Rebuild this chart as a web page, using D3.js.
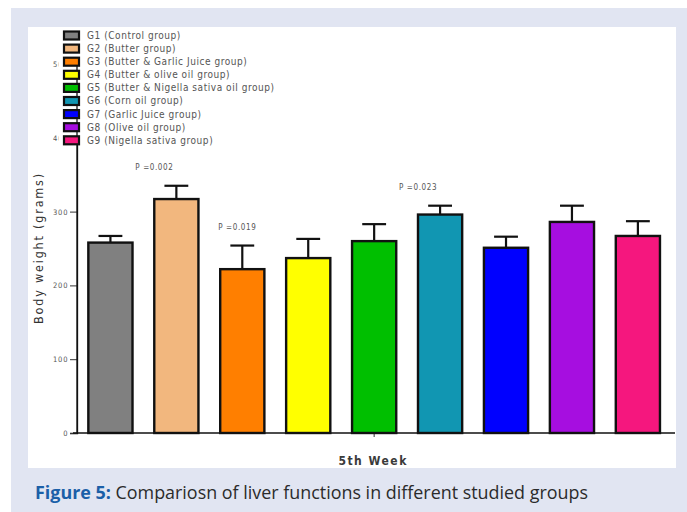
<!DOCTYPE html>
<html>
<head>
<meta charset="utf-8">
<script src="https://cdn.jsdelivr.net/npm/d3@7"></script>
<style>
  html, body { margin: 0; padding: 0; background: #ffffff; }
  svg { display: block; }
  .narrow { font-family: "Liberation Sans Narrow", "Arial Narrow", "DejaVu Sans Condensed", sans-serif; }
</style>
</head>
<body>
<svg id="chart" width="687" height="512"></svg>
<script>
// Body weight at the 5th week, mean ± SE per group
const groups = ["G1", "G2", "G3", "G4", "G5", "G6", "G7", "G8", "G9"];
const groupNames = [
  "G1 (Control group)",
  "G2 (Butter group)",
  "G3 (Butter & Garlic Juice group)",
  "G4 (Butter & olive oil group)",
  "G5 (Butter & Nigella sativa oil group)",
  "G6 (Corn oil group)",
  "G7 (Garlic Juice group)",
  "G8 (Olive oil group)",
  "G9 (Nigella sativa group)"
];
const meanWeight = [258, 317, 222, 237, 260, 296, 251, 286, 267];
const seWeight = [9, 18, 32, 26, 23, 12, 15, 22, 20];
const groupColors = ["#808080", "#f2b77e", "#ff7f00", "#ffff00", "#00bf00", "#1196b2", "#0000ff", "#a60ee0", "#f5177e"];
const pGroups = ["G2", "G3", "G6"];
const pLabels = ["P =0.002", "P =0.019", "P =0.023"];
const yTicks = [0, 100, 200, 300, 400, 500];
const xLabel = "5th Week";
const yLabel = "Body weight (grams)";
const captionLead = "Figure 5:";
const captionText = " Compariosn of liver functions in different studied groups";

const svg = d3.select("#chart");

// page frame: lavender card with a white plot panel
svg.append("rect").attr("x", 11).attr("y", 8).attr("width", 676).attr("height", 504).attr("fill", "#e1e5f2");
svg.append("rect").attr("x", 28).attr("y", 27).attr("width", 648).attr("height", 441).attr("fill", "#ffffff");

const x = d3.scaleBand().domain(groups).range([77, 675]).paddingInner(0.33).paddingOuter(0.2).align(0.43);
const y = d3.scaleLinear().domain([0, 500]).range([433, 64]);

// y axis
const yAxis = svg.append("g").attr("class", "narrow").attr("transform", "translate(77,0)")
  .call(d3.axisLeft(y).tickValues(yTicks).tickSize(7).tickPadding(1.5).tickFormat(d3.format("d")));
yAxis.select(".domain").attr("stroke", "#111").attr("stroke-width", 1.3);
yAxis.selectAll(".tick line").attr("stroke", "#333").attr("stroke-width", 1);
yAxis.selectAll(".tick text").attr("font-size", 7.5).attr("fill", "#555").style("letter-spacing", "0.9px");

// x axis: one centred tick for the single time point
const xLine = svg.append("g");
xLine.append("line").attr("x1", 73).attr("x2", 675).attr("y1", y(0)).attr("y2", y(0))
  .attr("stroke", "#111").attr("stroke-width", 1.3);
const midX = (x(groups[0]) + x(groups[groups.length - 1]) + x.bandwidth()) / 2;
xLine.append("line").attr("x1", midX).attr("x2", midX).attr("y1", y(0)).attr("y2", y(0) + 4)
  .attr("stroke", "#333").attr("stroke-width", 1);

svg.append("text").attr("class", "narrow")
  .attr("x", midX - 1).attr("y", 465)
  .attr("text-anchor", "middle").attr("font-size", 12).attr("font-weight", "bold")
  .attr("fill", "#3a3a3a").style("letter-spacing", "1.5px")
  .text(xLabel);

svg.append("text").attr("class", "narrow")
  .attr("transform", "translate(43,248) rotate(-90)")
  .attr("text-anchor", "middle").attr("font-size", 12.5)
  .attr("fill", "#333").style("letter-spacing", "1.8px")
  .text(yLabel);

// error bars (upper whisker only, bar body hides the lower half)
const capHalf = x.bandwidth() * 0.27;
const eb = svg.append("g").attr("stroke", "#111").attr("stroke-width", 2.2);
groups.forEach((g, i) => {
  const cx = x(g) + x.bandwidth() / 2;
  eb.append("line").attr("x1", cx).attr("x2", cx).attr("y1", y(meanWeight[i])).attr("y2", y(meanWeight[i] + seWeight[i]));
  eb.append("line").attr("x1", cx - capHalf).attr("x2", cx + capHalf)
    .attr("y1", y(meanWeight[i] + seWeight[i])).attr("y2", y(meanWeight[i] + seWeight[i]));
});

// bars
svg.append("g").selectAll("rect").data(groups).join("rect")
  .attr("x", d => x(d))
  .attr("y", (d, i) => y(meanWeight[i]))
  .attr("width", x.bandwidth())
  .attr("height", (d, i) => y(0) - y(meanWeight[i]))
  .attr("fill", (d, i) => groupColors[i])
  .attr("stroke", "#111").attr("stroke-width", 2.4);

// significance labels above selected groups
const pNudge = { G2: -22, G3: -5, G6: -22 };
pGroups.forEach((g, k) => {
  const i = groups.indexOf(g);
  svg.append("text").attr("class", "narrow")
    .attr("x", x(g) + x.bandwidth() / 2 + pNudge[g])
    .attr("y", y(meanWeight[i] + seWeight[i]) - 16)
    .attr("text-anchor", "middle").attr("font-size", 8)
    .attr("fill", "#555").style("letter-spacing", "0.6px")
    .text(pLabels[k]);
});

// legend on a white backing, y axis line runs through it
svg.append("rect").attr("x", 58.5).attr("y", 29).attr("width", 231).attr("height", 116).attr("fill", "#ffffff");
svg.append("line").attr("x1", 77).attr("x2", 77).attr("y1", y(0)).attr("y2", y(500))
  .attr("stroke", "#111").attr("stroke-width", 1.3);
const leg = svg.append("g").attr("class", "narrow");
const rowH = 13.1;
groupNames.forEach((name, i) => {
  const cy = 35.5 + i * rowH;
  leg.append("rect").attr("x", 64).attr("y", cy - 4).attr("width", 15).attr("height", 8)
    .attr("fill", groupColors[i]).attr("stroke", "#111").attr("stroke-width", 2.2);
  leg.append("text").attr("x", 87).attr("y", cy + 3.4)
    .attr("font-size", 10).attr("fill", "#555").style("letter-spacing", "0.55px")
    .text(name);
});

// caption
const cap = svg.append("text").attr("x", 35).attr("y", 499)
  .attr("font-family", "'Open Sans', 'Noto Sans', sans-serif").attr("font-size", 17.5)
  .attr("textLength", 553).attr("lengthAdjust", "spacingAndGlyphs");
cap.append("tspan").attr("font-weight", "bold").attr("fill", "#1b5fa8").text(captionLead);
cap.append("tspan").attr("fill", "#2b2b2b").text(captionText);
</script>
</body>
</html>
